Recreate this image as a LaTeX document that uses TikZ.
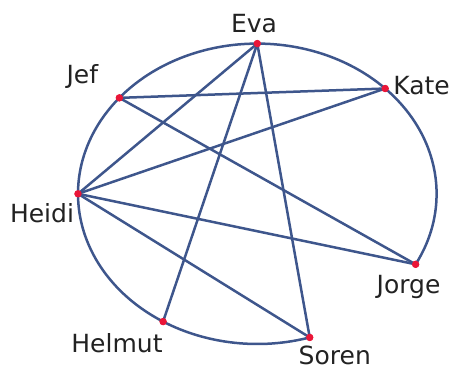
\documentclass[tikz,border=0pt]{standalone}
\usepackage{fontspec}
\setmainfont{DejaVu Sans}
\usetikzlibrary{calc}
\definecolor{edgeblue}{RGB}{62,86,140}
\definecolor{dotred}{RGB}{234,22,56}
\definecolor{txt}{RGB}{34,34,34}
\begin{document}
\begin{tikzpicture}[x=1pt,y=1pt,
  vtx/.style={circle,fill=dotred,draw=none,inner sep=0pt,minimum size=7pt},
  lbl/.style={anchor=base,text=txt,inner sep=0pt,font=\fontsize{25}{28}\selectfont},
  edge/.style={draw=edgeblue,line width=2.5pt},
]
\useasboundingbox (0,0) rectangle (454,369);
\coordinate (c) at (257.3,175.2);
% vertices on the ellipse
\node[vtx] (eva)    at ($(c)+(90:179.3 and 150.2)$) {};
\node[vtx] (kate)   at ($(c)+(44.5:179.3 and 150.2)$) {};
\node[vtx] (jorge)  at ($(c)+(-28:179.3 and 150.2)$) {};
\node[vtx] (soren)  at ($(c)+(-73:179.3 and 150.2)$) {};
\node[vtx] (helmut) at ($(c)+(-121.7:179.3 and 150.2)$) {};
\node[vtx] (heidi)  at ($(c)+(180:179.3 and 150.2)$) {};
\node[vtx] (jef)    at ($(c)+(140.3:179.3 and 150.2)$) {};
% curved edges
\path[edge] (kate.center)   arc[start angle=44.5,end angle=-28,x radius=179.3pt,y radius=150.2pt];
\path[edge] (eva.center)    arc[start angle=90,end angle=44.5,x radius=179.3pt,y radius=150.2pt];
\path[edge] (eva.center)    arc[start angle=90,end angle=140.3,x radius=179.3pt,y radius=150.2pt];
\path[edge] (jef.center)    arc[start angle=140.3,end angle=180,x radius=179.3pt,y radius=150.2pt];
\path[edge] (heidi.center)  arc[start angle=180,end angle=238.3,x radius=179.3pt,y radius=150.2pt];
\path[edge] (helmut.center) arc[start angle=238.3,end angle=287,x radius=179.3pt,y radius=150.2pt];
% straight edges
\path[edge] (jef.center) -- (kate.center);
\path[edge] (jef.center) -- (jorge.center);
\path[edge] (eva.center) -- (heidi.center);
\path[edge] (eva.center) -- (helmut.center);
\path[edge] (eva.center) -- (soren.center);
\path[edge] (kate.center) -- (heidi.center);
\path[edge] (heidi.center) -- (jorge.center);
\path[edge] (heidi.center) -- (soren.center);
% dots on top
\foreach \v in {eva,kate,jorge,soren,helmut,heidi,jef}
  \fill[dotred] (\v.center) circle[radius=3.7pt];
% labels
\node[lbl] (leva)    at (254,336.7) {Eva};
\node[lbl] (lkate)   at (421.5,274.7) {Kate};
\node[lbl] (ljef)    at (82.3,285) {Jef};
\node[lbl] (lheidi)  at (42,146.3) {Heidi};
\node[lbl] (lhelmut) at (117,16.7) {Helmut};
\node[lbl] (ljorge)  at (408.5,75.7) {Jorge};
\node[lbl] (lsoren)  at (334.8,5) {Soren};
\end{tikzpicture}
\end{document}
